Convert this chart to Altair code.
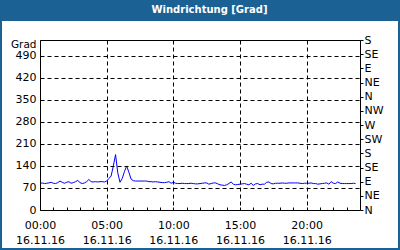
import json
import altair as alt
import pandas as pd

# ---- data -------------------------------------------------------------
minutes = list(range(0, 1430, 10))  # 00:00 .. 23:40, 10-minute samples
direction = [
    84, 86, 84, 85, 86, 88, 85, 84, 87, 92, 88, 85,
    88, 90, 85, 87, 90, 94, 87, 84, 86, 90, 97, 90,
    89, 90, 89, 90, 90, 89, 92, 100, 108, 140, 176, 118,
    88, 100, 122, 140, 120, 98, 93, 92, 92, 92, 92, 92,
    92, 90, 90, 89, 90, 89, 88, 87, 87, 88, 90, 85,
    88, 85, 84, 84, 85, 84, 84, 84, 85, 84, 83, 83,
    84, 85, 86, 86, 82, 84, 86, 86, 83, 80, 79, 78,
    80, 84, 89, 82, 80, 81, 82, 83, 84, 82, 80, 85,
    78, 83, 84, 80, 82, 82, 88, 89, 84, 83, 85, 85,
    85, 86, 85, 85, 86, 86, 86, 86, 86, 85, 84, 85,
    85, 85, 86, 84, 84, 82, 83, 84, 85, 86, 82, 90,
    85, 84, 89, 85, 84, 84, 84, 84, 84, 85, 84,
]
hour_labels = [0, 5, 10, 15, 20]
minor_hours = list(range(1, 24))
date_label = "16.11.16"
grad_ticks = [0, 70, 140, 210, 280, 350, 420, 490]
compass_ticks = list(range(0, 541, 45))
compass_labels = ["N", "NE", "E", "SE", "S", "SW", "W", "NW", "N", "NE", "E", "SE", "S"]
title_text = "Windrichtung [Grad]"
unit_text = "Grad"

df = pd.DataFrame({"hour": [m / 60 for m in minutes], "deg": direction})

BLUE = "#1c6194"
FONT = "DejaVu Sans"

x_scale = alt.Scale(domain=[0, 24], nice=False, zero=False)
y_scale = alt.Scale(domain=[0, 540], nice=False, zero=True)

# ---- frame ------------------------------------------------------------
one = alt.Data(values=[{}])
frame = alt.Chart(one).mark_rect(
    fillOpacity=0, stroke=BLUE, strokeWidth=4
).encode(
    x=alt.value(-40), x2=alt.value(360), y=alt.value(-40), y2=alt.value(210)
)
title_bar = alt.Chart(one).mark_rect(fill=BLUE).encode(
    x=alt.value(-40), x2=alt.value(360), y=alt.value(-40), y2=alt.value(-19)
)
title = alt.Chart(one).mark_text(
    font=FONT, fontSize=10, fontWeight="bold", color="white",
    align="center", baseline="middle"
).encode(x=alt.value(169.5), y=alt.value(-30), text=alt.value(title_text))

# ---- main line with left / bottom axes ------------------------------------
x_label_expr = (
    "[(datum.value < 10 ? '0' : '') + datum.value + ':00', "
    + json.dumps(date_label).replace('"', "'")
    + "]"
)
main = alt.Chart(df).mark_line(color="#0000ff", strokeWidth=1).encode(
    x=alt.X(
        "hour:Q", scale=x_scale,
        axis=alt.Axis(
            values=hour_labels, labelExpr=x_label_expr, ticks=False, domain=False,
            grid=True, gridColor="black", gridDash=[4, 3], gridOpacity=1,
            labelPadding=9, labelLineHeight=15, labelBaseline="top",
            labelAlign="center", title=None, zindex=1,
        ),
    ),
    y=alt.Y(
        "deg:Q", scale=y_scale,
        axis=alt.Axis(
            values=grad_ticks, ticks=False, domain=False, grid=True,
            gridColor="black", gridDash=[4, 3], gridOpacity=1, labelPadding=4,
            title=unit_text, titleAngle=0, titleX=-4, titleY=4, titleAlign="right",
            titleBaseline="middle", titleFont=FONT, titleFontSize=10.5,
            titleFontWeight="normal", titleColor="black", zindex=1,
        ),
    ),
)

# ---- second layer: hourly inner ticks and compass axis ---------------------------
compass_expr = json.dumps(compass_labels).replace('"', "'") + "[round(datum.value / 45)]"
aux = alt.Chart(df).mark_line(strokeOpacity=0).encode(
    x=alt.X(
        "hour:Q", scale=x_scale,
        axis=alt.Axis(
            orient="top", offset=-170, values=minor_hours, labels=False,
            domain=False, grid=False, ticks=True, tickSize=3, tickColor="black",
            title=None,
        ),
    ),
    y=alt.Y(
        "deg:Q", scale=y_scale,
        axis=alt.Axis(
            orient="right", values=compass_ticks, labelExpr=compass_expr,
            domain=False, grid=False, ticks=True, tickSize=3, tickColor="black",
            labelPadding=1, title=None,
        ),
    ),
)

chart = alt.layer(frame, title_bar, title, main, aux).resolve_scale(
    x="independent", y="independent"
).properties(
    width=320, height=170,
    autosize=alt.AutoSizeParams(type="none"),
    padding={"left": 40, "top": 40, "right": 40, "bottom": 40},
    background="white",
).configure_view(
    stroke="black", strokeWidth=1
).configure_axis(
    labelFont=FONT, labelFontSize=11, labelColor="black",
)

chart.save("out.html", embed_options={"renderer": "svg", "actions": False})
